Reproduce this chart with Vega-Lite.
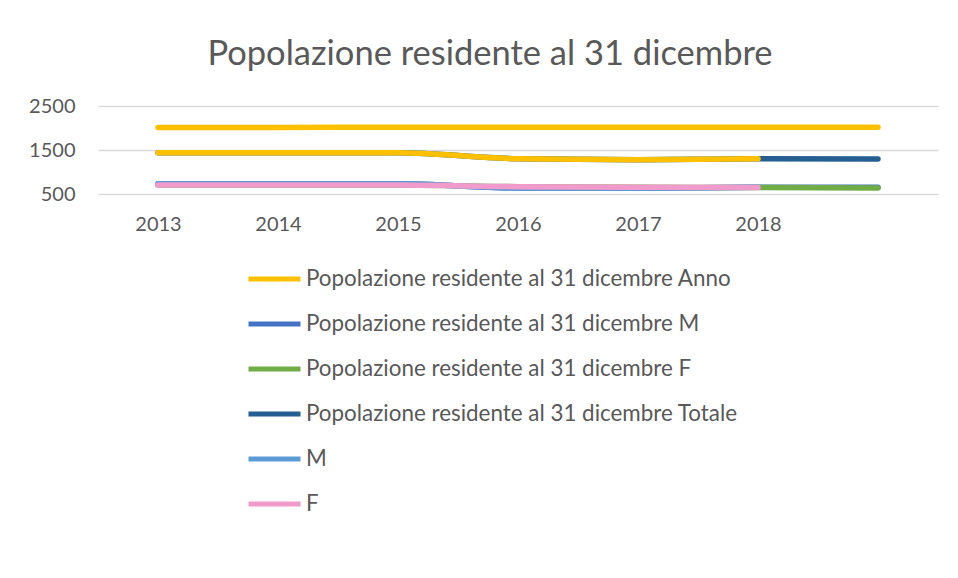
{
  "$schema": "https://vega.github.io/schema/vega-lite/v6.json",
  "width": 840,
  "height": 88,
  "autosize": {"type": "none"},
  "padding": {"left": 98, "top": 106, "right": 20, "bottom": 384},
  "background": "white",
  "title": {
    "text": "Popolazione residente al 31 dicembre",
    "font": "Lato",
    "fontSize": 34.5,
    "fontWeight": "normal",
    "color": "#595959",
    "anchor": "middle",
    "dx": -28,
    "offset": 24
  },
  "data": {
    "values": [
      {"series": "Popolazione residente al 31 dicembre Anno", "year": "2013", "value": 2013},
      {"series": "Popolazione residente al 31 dicembre Anno", "year": "2014", "value": 2014},
      {"series": "Popolazione residente al 31 dicembre Anno", "year": "2015", "value": 2015},
      {"series": "Popolazione residente al 31 dicembre Anno", "year": "2016", "value": 2016},
      {"series": "Popolazione residente al 31 dicembre Anno", "year": "2017", "value": 2017},
      {"series": "Popolazione residente al 31 dicembre Anno", "year": "2018", "value": 2018},
      {"series": "Popolazione residente al 31 dicembre Anno", "year": "2019", "value": 2019},
      {"series": "Popolazione residente al 31 dicembre M", "year": "2013", "value": 735},
      {"series": "Popolazione residente al 31 dicembre M", "year": "2014", "value": 734},
      {"series": "Popolazione residente al 31 dicembre M", "year": "2015", "value": 733},
      {"series": "Popolazione residente al 31 dicembre M", "year": "2016", "value": 636},
      {"series": "Popolazione residente al 31 dicembre M", "year": "2017", "value": 628},
      {"series": "Popolazione residente al 31 dicembre M", "year": "2018", "value": 652},
      {"series": "Popolazione residente al 31 dicembre M", "year": "2019", "value": 655},
      {"series": "Popolazione residente al 31 dicembre F", "year": "2013", "value": 705},
      {"series": "Popolazione residente al 31 dicembre F", "year": "2014", "value": 706},
      {"series": "Popolazione residente al 31 dicembre F", "year": "2015", "value": 704},
      {"series": "Popolazione residente al 31 dicembre F", "year": "2016", "value": 666},
      {"series": "Popolazione residente al 31 dicembre F", "year": "2017", "value": 652},
      {"series": "Popolazione residente al 31 dicembre F", "year": "2018", "value": 648},
      {"series": "Popolazione residente al 31 dicembre F", "year": "2019", "value": 638},
      {"series": "Popolazione residente al 31 dicembre Totale", "year": "2013", "value": 1440},
      {"series": "Popolazione residente al 31 dicembre Totale", "year": "2014", "value": 1440},
      {"series": "Popolazione residente al 31 dicembre Totale", "year": "2015", "value": 1437},
      {"series": "Popolazione residente al 31 dicembre Totale", "year": "2016", "value": 1302},
      {"series": "Popolazione residente al 31 dicembre Totale", "year": "2017", "value": 1280},
      {"series": "Popolazione residente al 31 dicembre Totale", "year": "2018", "value": 1300},
      {"series": "Popolazione residente al 31 dicembre Totale", "year": "2019", "value": 1293},
      {"series": "M", "year": "2013", "value": 735},
      {"series": "M", "year": "2014", "value": 734},
      {"series": "M", "year": "2015", "value": 733},
      {"series": "M", "year": "2016", "value": 636},
      {"series": "M", "year": "2017", "value": 628},
      {"series": "M", "year": "2018", "value": 652},
      {"series": "F", "year": "2013", "value": 705},
      {"series": "F", "year": "2014", "value": 706},
      {"series": "F", "year": "2015", "value": 704},
      {"series": "F", "year": "2016", "value": 666},
      {"series": "F", "year": "2017", "value": 652},
      {"series": "F", "year": "2018", "value": 648},
      {"series": "Totale (senza legenda)", "year": "2013", "value": 1440},
      {"series": "Totale (senza legenda)", "year": "2014", "value": 1440},
      {"series": "Totale (senza legenda)", "year": "2015", "value": 1437},
      {"series": "Totale (senza legenda)", "year": "2016", "value": 1302},
      {"series": "Totale (senza legenda)", "year": "2017", "value": 1280},
      {"series": "Totale (senza legenda)", "year": "2018", "value": 1300}
    ]
  },
  "encoding": {
    "x": {
      "field": "year",
      "type": "ordinal",
      "sort": null,
      "scale": {"type": "point", "padding": 0.5, "domain": ["2013", "2014", "2015", "2016", "2017", "2018", "2019"]},
      "axis": {
        "title": null,
        "domain": false,
        "ticks": false,
        "grid": false,
        "labelAngle": 0,
        "labelExpr": "datum.value == '2019' ? '' : datum.label",
        "labelFont": "Lato",
        "labelFontSize": 20,
        "labelColor": "#595959",
        "labelPadding": 20
      }
    },
    "y": {
      "field": "value",
      "type": "quantitative",
      "scale": {"domain": [500, 2500], "nice": false, "zero": false},
      "axis": {
        "title": null,
        "values": [500, 1500, 2500],
        "format": "d",
        "domain": false,
        "ticks": false,
        "grid": true,
        "gridColor": "#d9d9d9",
        "gridWidth": 1.5,
        "labelFont": "Lato",
        "labelFontSize": 20,
        "labelColor": "#595959",
        "labelPadding": 23
      }
    }
  },
  "layer": [
    {
      "transform": [{"filter": {"field": "series", "equal": "Popolazione residente al 31 dicembre Anno"}}],
      "mark": {"type": "line", "interpolate": "monotone", "strokeWidth": 5.5, "strokeCap": "round", "strokeJoin": "round"},
      "encoding": {"color": {
        "field": "series",
        "type": "nominal",
        "scale": {
          "domain": ["Popolazione residente al 31 dicembre Anno", "Popolazione residente al 31 dicembre M", "Popolazione residente al 31 dicembre F", "Popolazione residente al 31 dicembre Totale", "M", "F"],
          "range": ["#FFC000", "#4472C4", "#70AD47", "#255E91", "#5B9BD5", "#F19BCC"]
        },
        "legend": {"title": null}
      }}
    },
    {
      "transform": [{"filter": {"field": "series", "equal": "Popolazione residente al 31 dicembre M"}}],
      "mark": {"type": "line", "interpolate": "monotone", "strokeWidth": 5.5, "strokeCap": "round", "strokeJoin": "round"},
      "encoding": {"color": {"field": "series", "type": "nominal"}}
    },
    {
      "transform": [{"filter": {"field": "series", "equal": "Popolazione residente al 31 dicembre F"}}],
      "mark": {"type": "line", "interpolate": "monotone", "strokeWidth": 5.5, "strokeCap": "round", "strokeJoin": "round"},
      "encoding": {"color": {"field": "series", "type": "nominal"}}
    },
    {
      "transform": [{"filter": {"field": "series", "equal": "Popolazione residente al 31 dicembre Totale"}}],
      "mark": {"type": "line", "interpolate": "monotone", "strokeWidth": 5.5, "strokeCap": "round", "strokeJoin": "round"},
      "encoding": {"color": {"field": "series", "type": "nominal"}}
    },
    {
      "transform": [{"filter": {"field": "series", "equal": "M"}}],
      "mark": {"type": "line", "interpolate": "monotone", "strokeWidth": 5.5, "strokeCap": "round", "strokeJoin": "round"},
      "encoding": {"color": {"field": "series", "type": "nominal"}}
    },
    {
      "transform": [{"filter": {"field": "series", "equal": "F"}}],
      "mark": {"type": "line", "interpolate": "monotone", "strokeWidth": 5.5, "strokeCap": "round", "strokeJoin": "round"},
      "encoding": {"color": {"field": "series", "type": "nominal"}}
    },
    {
      "transform": [{"filter": {"field": "series", "equal": "Totale (senza legenda)"}}],
      "mark": {"type": "line", "interpolate": "monotone", "strokeWidth": 5.5, "strokeCap": "round", "strokeJoin": "round", "color": "#FFC000"},
      "encoding": {}
    }
  ],
  "resolve": {"scale": {"color": "shared"}},
  "config": {
    "view": {"stroke": null},
    "legend": {
      "orient": "none",
      "legendX": 148,
      "legendY": 163,
      "direction": "vertical",
      "symbolType": "stroke",
      "symbolSize": 2704,
      "symbolStrokeWidth": 5,
      "clipHeight": 20,
      "rowPadding": 22,
      "labelFont": "Lato",
      "labelFontSize": 22.4,
      "labelColor": "#595959",
      "labelOffset": 3,
      "labelLimit": 700
    }
  }
}
